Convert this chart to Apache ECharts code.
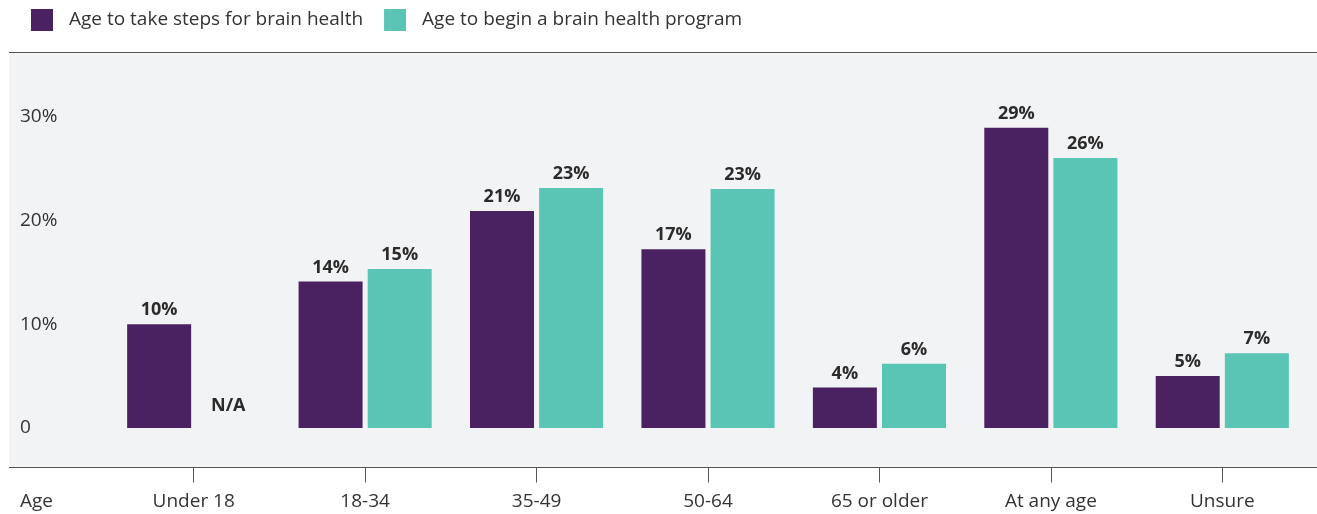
<!DOCTYPE html>
<html>
<head>
<meta charset="utf-8">
<script src="https://cdn.jsdelivr.net/npm/echarts@6/dist/echarts.min.js"></script>
<style>
  html, body { margin: 0; padding: 0; background: #fff; }
  #chart { width: 1317px; height: 514px; }
</style>
</head>
<body>
<div id="chart"></div>
<script>
// data
var categories = ['Under 18', '18-34', '35-49', '50-64', '65 or older', 'At any age', 'Unsure'];
var takeSteps = [10, 14.1, 20.9, 17.2, 3.9, 28.9, 5.0];
var takeStepsLabels = ['10%', '14%', '21%', '17%', '4%', '29%', '5%'];
var beginProgram = [null, 15.3, 23.1, 23.0, 6.2, 26.0, 7.2];
var beginProgramLabels = ['N/A', '15%', '23%', '23%', '6%', '26%', '7%'];
var yTicks = [0, 10, 20, 30];

var font = '"Open Sans", Lato, sans-serif';
var purple = '#4a2262';
var teal = '#5ac4b5';

var chart = echarts.init(document.getElementById('chart'));

var labelStyle = {
  show: true,
  position: 'top',
  distance: 5,
  fontFamily: font,
  fontWeight: 'bold',
  fontSize: 18,
  color: '#2b2b2b'
};

var option = {
  animation: false,
  legend: {
    left: 26,
    top: 4,
    itemWidth: 22,
    itemHeight: 22,
    itemGap: 21,
    icon: 'rect',
    textStyle: { fontFamily: font, fontSize: 19, color: '#333', padding: [2, 0, 0, 11] },
    data: ['Age to take steps for brain health', 'Age to begin a brain health program']
  },
  graphic: [
    { type: 'rect', z: -10, shape: { x: 9, y: 52, width: 1308, height: 416 }, style: { fill: '#f2f3f5' } },
    { type: 'line', z: 10, shape: { x1: 9, y1: 52.5, x2: 1317, y2: 52.5 }, style: { stroke: '#555', lineWidth: 1 } },
    { type: 'line', z: 10, shape: { x1: 9, y1: 467.5, x2: 1317, y2: 467.5 }, style: { stroke: '#555', lineWidth: 1 } },
    { type: 'text', left: 20, top: 492, style: { text: 'Age', fontFamily: font, fontSize: 19, fill: '#333' } }
  ],
  grid: { left: 108, right: 9, top: 52, bottom: 46.5 },
  xAxis: {
    type: 'category',
    data: categories,
    axisLine: { show: false, onZero: false },
    axisTick: { show: true, alignWithLabel: true, length: 15, lineStyle: { color: '#555' } },
    axisLabel: { margin: 25, fontFamily: font, fontSize: 19, color: '#333' }
  },
  yAxis: {
    type: 'value',
    min: -3.8,
    max: 36.2,
    splitLine: { show: false },
    axisLine: { show: false },
    axisTick: { show: false },
    axisLabel: {
      customValues: yTicks,
      align: 'left',
      margin: 88,
      padding: [4, 0, 0, 0],
      fontFamily: font,
      fontSize: 19,
      color: '#333',
      formatter: function (v) { return v === 0 ? '0' : v + '%'; }
    }
  },
  series: [
    {
      name: 'Age to take steps for brain health',
      type: 'bar',
      barWidth: 64,
      barGap: '8%',
      itemStyle: { color: purple },
      label: Object.assign({}, labelStyle, {
        formatter: function (p) { return takeStepsLabels[p.dataIndex]; }
      }),
      data: takeSteps
    },
    {
      name: 'Age to begin a brain health program',
      type: 'bar',
      barWidth: 64,
      itemStyle: { color: teal },
      label: Object.assign({}, labelStyle, {
        formatter: function (p) { return beginProgramLabels[p.dataIndex]; }
      }),
      data: beginProgram.map(function (v) {
        return v === null ? { value: 0, label: { distance: 13 } } : v;
      })
    }
  ]
};

chart.setOption(option);
</script>
</body>
</html>
